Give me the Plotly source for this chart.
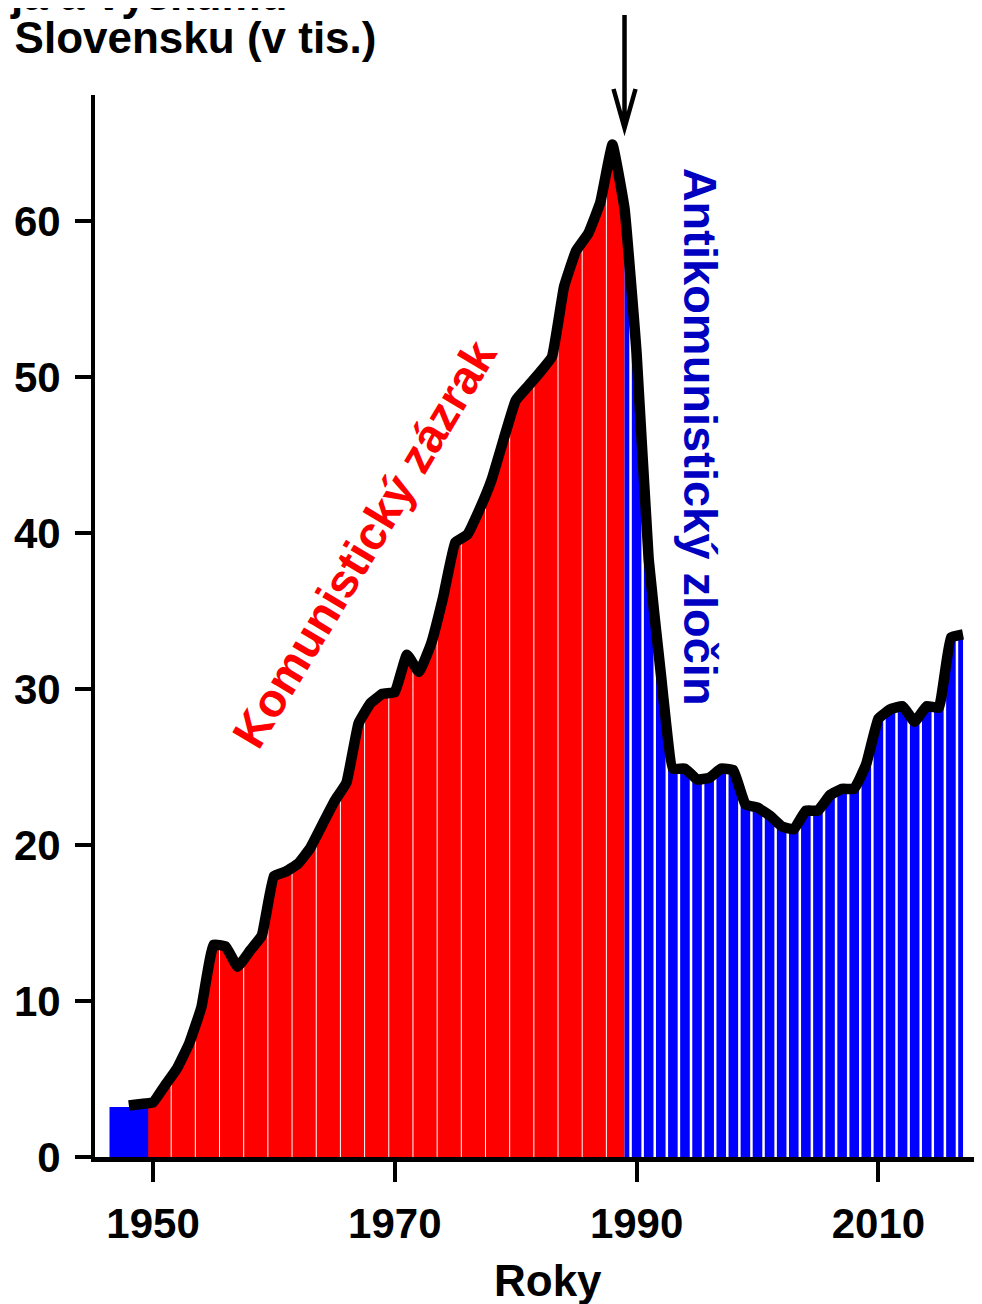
import plotly.graph_objects as go

# pracovníci vo výskume a vývoji na Slovensku, tisíce osôb
years = list(range(1948, 2018))
workers = [
    3.3, 3.4, 3.5, 4.6, 5.7, 7.3, 9.6, 13.6, 13.5, 12.2,      # 1948-1957
    13.2, 14.2, 18.0, 18.3, 18.8, 19.8, 21.3, 22.8, 24.0, 27.8,  # 1958-1967
    29.1, 29.7, 29.8, 32.2, 31.1, 32.9, 35.9, 39.4, 39.9, 41.5,  # 1968-1977
    43.4, 46.0, 48.5, 49.4, 50.3, 51.3, 55.8, 58.1, 59.2, 61.2,  # 1978-1987
    64.9, 60.8, 51.5, 38.3, 31.0, 24.9, 24.9, 24.2, 24.3, 24.9,  # 1988-1997
    24.8, 22.6, 22.4, 21.9, 21.2, 21.0, 22.2, 22.2, 23.2, 23.6,  # 1998-2007
    23.6, 25.2, 28.1, 28.7, 28.9, 27.9, 28.9, 28.8, 33.3, 33.5,  # 2008-2017
]
early_year = 1948      # blok 1947-1949
early_value = 3.2
last_communist_year = 1989

x_ticks = [1950, 1970, 1990, 2010]
y_ticks = [0, 10, 20, 30, 40, 50, 60]

RED = "#ff0000"
BLUE = "#0000ff"
FONT = "Liberation Sans, Arial, sans-serif"

x_range = [1945.2, 2018.57]
y_range = [0, 68.08]


# stránka má 8px okraj, plot area je 95..982 x 95..1157 px
def px_x(px):
    return (px - 95) / 887


def px_y(py):
    return (1157 - py) / 1062


red_x = [y for y in years if 1949 <= y <= last_communist_year]
red_y = [v for y, v in zip(years, workers) if 1949 <= y <= last_communist_year]
blue_x = [y for y in years if y >= last_communist_year]
blue_y = [v for y, v in zip(years, workers) if y >= last_communist_year]

fig = go.Figure()
fig.add_trace(go.Scatter(x=red_x, y=red_y, mode="none", fill="tozeroy",
                         fillcolor=RED, hoverinfo="skip"))
fig.add_trace(go.Scatter(x=blue_x, y=blue_y, mode="none", fill="tozeroy",
                         fillcolor=BLUE, hoverinfo="skip"))


# biele deliace čiary medzi stĺpcami
def separators(bounds, width):
    xs, ys = [], []
    for b in bounds:
        xs += [b, b, None]
        ys += [0, y_range[1], None]
    return go.Scatter(x=xs, y=ys, mode="lines",
                      line=dict(color="white", width=width), hoverinfo="skip")


fig.add_trace(separators([y + 0.5 for y in range(1951, last_communist_year, 2)], 1))
fig.add_trace(separators([y + 0.5 for y in range(last_communist_year, years[-1])], 2.5))

# nad výplňou: blok 1947-49 a hrubá čierna čiara
fig.add_trace(go.Bar(x=[early_year], y=[early_value], width=[3.2],
                     marker=dict(color=BLUE, line=dict(width=0)),
                     xaxis="x2", yaxis="y2"))
fig.add_trace(go.Scatter(x=years, y=workers, mode="lines",
                         line=dict(color="black", width=10.5,
                                   shape="spline", smoothing=0.3),
                         xaxis="x2", yaxis="y2"))

tick_font = dict(family=FONT, size=42, color="black", weight="bold")
fig.update_layout(
    width=974, height=1296,
    margin=dict(l=87, r=0, t=87, b=147),
    paper_bgcolor="white", plot_bgcolor="white",
    showlegend=False,
    xaxis=dict(range=x_range, tickvals=x_ticks, showgrid=False, zeroline=False,
               showline=True, linecolor="black", linewidth=5,
               ticks="outside", ticklen=20, tickwidth=4, tickcolor="black",
               tickfont=tick_font, ticklabelstandoff=6),
    yaxis=dict(range=y_range, tickvals=y_ticks, showgrid=False, zeroline=False,
               showline=True, linecolor="black", linewidth=4,
               ticks="outside", ticklen=16, tickwidth=4, tickcolor="black",
               tickfont=tick_font, ticklabelstandoff=6),
    xaxis2=dict(range=x_range, overlaying="x", visible=False),
    yaxis2=dict(range=y_range, overlaying="y", visible=False),
)

# šípka na rok 1989
ax = (last_communist_year - x_range[0]) / (x_range[1] - x_range[0])
fig.add_shape(type="path", xref="paper", yref="paper",
              xsizemode="pixel", ysizemode="pixel", xanchor=ax, yanchor=1,
              path="M0,80 L0,-31 M-11,6 L0,-33 L11,6",
              line=dict(color="black", width=4.5))

fig.add_annotation(x=1967.5, y=39.3, text="<b>Komunistický zázrak</b>",
                   textangle=-59, showarrow=False,
                   font=dict(family=FONT, size=47, color=RED))
fig.add_annotation(x=1995.3, y=46.2, text="<b>Antikomunistický zločin</b>",
                   textangle=90, showarrow=False,
                   font=dict(family=FONT, size=47, color="#0000c0"))

title_font = dict(family=FONT, size=44, color="black")
fig.add_annotation(xref="paper", yref="paper", x=px_x(289), y=px_y(-6),
                   xanchor="right", yanchor="middle", showarrow=False,
                   text="<b>Pracovníci vývoja a výskumu</b>", font=title_font)
fig.add_annotation(xref="paper", yref="paper", x=px_x(378), y=px_y(38),
                   xanchor="right", yanchor="middle", showarrow=False,
                   text="<b>na Slovensku (v tis.)</b>", font=title_font)
fig.add_annotation(xref="paper", yref="paper", x=px_x(548), y=px_y(1281),
                   xanchor="center", yanchor="middle", showarrow=False,
                   text="<b>Roky</b>", font=title_font)

fig.write_html("out.html")
